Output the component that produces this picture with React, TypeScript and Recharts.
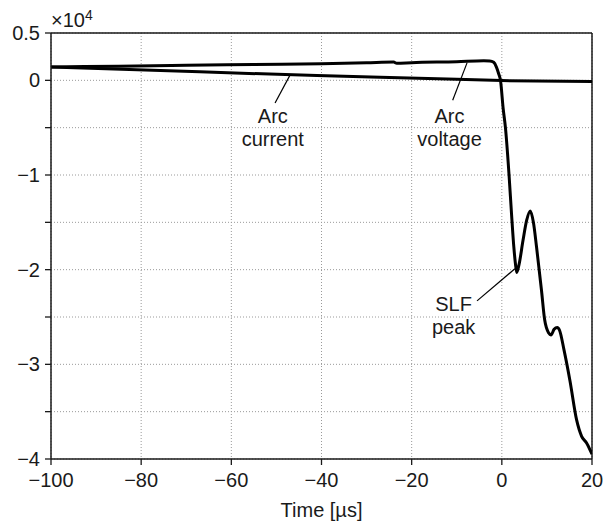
import React from 'react';
import {
  LineChart,
  Line,
  XAxis,
  YAxis,
  CartesianGrid,
  ReferenceLine,
  ReferenceDot
} from 'recharts';

const FONT = '"Liberation Sans", Arial, sans-serif';
const INK = '#1a1a1a';

// time in µs, values in units of 10^4
const voltageTime = [
  -100, -85, -70, -55, -40, -30, -24, -23.3, -20, -10, -4, -2.7, -1.8, -1.2, -0.7, -0.3,
  0.3, 0.8, 1.6, 2.15, 2.66, 3.0, 3.3, 3.8, 4.7, 5.5, 6.3, 7.0, 7.7, 8.8, 9.5, 10.4, 10.9,
  11.6, 12.3, 12.8, 13.8, 15.1, 16.6, 17.7, 18.8, 20
];
const voltageValues = [
  0.14, 0.15, 0.16, 0.168, 0.175, 0.185, 0.193, 0.18, 0.187, 0.197, 0.207, 0.205, 0.19, 0.14, 0.07, 0.0,
  -0.3, -0.5, -1.0, -1.41, -1.76, -1.93, -2.03, -1.95, -1.69, -1.48, -1.38, -1.5, -1.76, -2.22, -2.53, -2.67, -2.69,
  -2.63, -2.61, -2.64, -2.85, -3.17, -3.59, -3.76, -3.83, -3.95
];

const currentTime = [-100, -67, -41, -27, -10, 0, 20];
const currentValues = [0.14, 0.09, 0.05, 0.033, 0.012, -0.003, -0.012];

const xTicks = [-100, -80, -60, -40, -20, 0, 20];
const yTicks = [-4, -3.5, -3, -2.5, -2, -1.5, -1, -0.5, 0, 0.5];

// annotation texts: [x, y of first baseline, lines]
const notes: { x: number; y: number; lines: string[] }[] = [
  { x: -50.8, y: -0.454, lines: ['Arc', 'current'] },
  { x: -11.6, y: -0.454, lines: ['Arc', 'voltage'] },
  { x: -10.7, y: -2.44, lines: ['SLF', 'peak'] }
];
const leaders = [
  [{ x: -50.3, y: -0.24 }, { x: -46.9, y: 0.063 }],
  [{ x: -10.9, y: -0.21 }, { x: -7.7, y: 0.187 }],
  [{ x: -5.5, y: -2.33 }, { x: 2.9, y: -1.99 }]
];

const voltage = voltageTime.map((t, i) => ({ t, v: voltageValues[i] }));
const current = currentTime.map((t, i) => ({ t, v: currentValues[i] }));

const fmtY = (v: number) => {
  if (!Number.isInteger(v) && v !== 0.5) return '';
  return v < 0 ? '\u2212' + Math.abs(v) : String(v);
};
const fmtX = (v: number) => (v < 0 ? '\u2212' + Math.abs(v) : String(v));

export default function App() {
  return (
    <div style={{ position: 'absolute', left: 0, top: 0, background: '#fff' }}>
      <LineChart
        width={603}
        height={526}
        margin={{ top: 33, right: 11, left: 6, bottom: 37 }}
        style={{ fontFamily: FONT }}
      >
        <CartesianGrid stroke="#9a9a9a" strokeDasharray="1 2" verticalValues={xTicks} horizontalValues={yTicks} />
        <XAxis
          type="number"
          dataKey="t"
          domain={[-100, 20]}
          ticks={xTicks}
          tickFormatter={fmtX}
          allowDataOverflow
          height={30}
          tickSize={6}
          tickMargin={8}
          tick={{ fill: INK, fontSize: 20 }}
          tickLine={{ stroke: INK, strokeWidth: 1.3 }}
          axisLine={{ stroke: INK, strokeWidth: 1.5 }}
          label={{ value: 'Time [\u00b5s]', position: 'bottom', offset: 14, fill: INK, fontSize: 20 }}
        />
        <YAxis
          type="number"
          domain={[-4, 0.5]}
          ticks={yTicks}
          tickFormatter={fmtY}
          allowDataOverflow
          width={45}
          tickSize={6}
          tickMargin={5}
          tick={{ fill: INK, fontSize: 20 }}
          tickLine={{ stroke: INK, strokeWidth: 1.3 }}
          axisLine={{ stroke: INK, strokeWidth: 1.5 }}
        />
        <ReferenceLine y={0.5} stroke={INK} strokeWidth={1.5} />
        <ReferenceLine x={20} stroke={INK} strokeWidth={1.5} />
        <Line
          data={current}
          dataKey="v"
          type="linear"
          stroke="#000"
          strokeWidth={3}
          dot={false}
          isAnimationActive={false}
        />
        <Line
          data={voltage}
          dataKey="v"
          type="monotone"
          stroke="#000"
          strokeWidth={3}
          dot={false}
          isAnimationActive={false}
        />
        {leaders.map((seg, i) => (
          <ReferenceLine key={'l' + i} segment={seg} stroke="#000" strokeWidth={1.2} />
        ))}
        {notes.map((n, i) => (
          <ReferenceDot
            key={'n' + i}
            x={n.x}
            y={n.y}
            r={0}
            shape={(p: any) => (
              <text x={p.cx} y={p.cy} textAnchor="middle" fontSize={20} fill={INK} fontFamily={FONT}>
                {n.lines.map((s, j) => (
                  <tspan key={j} x={p.cx} dy={j === 0 ? 0 : 22.5}>
                    {s}
                  </tspan>
                ))}
              </text>
            )}
          />
        ))}
        <ReferenceDot
          x={-100}
          y={0.5}
          r={0}
          shape={(p: any) => (
            <text x={p.cx} y={p.cy - 6.3} fontSize={20} fill={INK} fontFamily={FONT}>
              {'\u00d710'}
              <tspan fontSize={14} dy={-7}>4</tspan>
            </text>
          )}
        />
      </LineChart>
    </div>
  );
}
